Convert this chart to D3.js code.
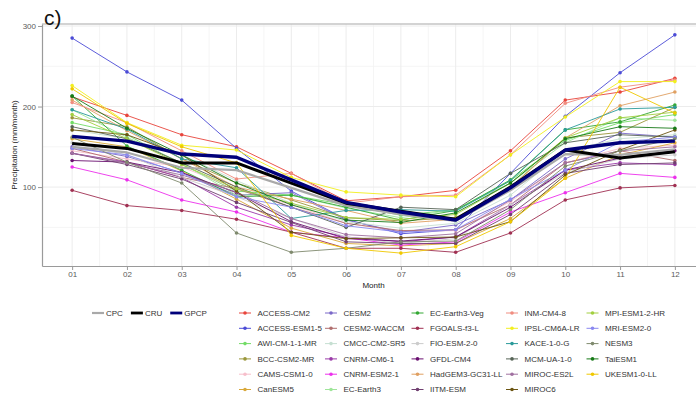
<!DOCTYPE html>
<html>
<head>
<meta charset="utf-8">
<script src="https://cdn.jsdelivr.net/npm/d3@7"></script>
<style>
  body { margin: 0; background: #fff; }
  text { font-family: "Liberation Sans", Arial, sans-serif; }
</style>
</head>
<body>
<svg id="chart" width="696" height="394"></svg>
<script>
// ---- data ---------------------------------------------------------------
const months = ["01","02","03","04","05","06","07","08","09","10","11","12"];
const yTicks = [100, 200, 300];

// observational products (mm/month)
const obsNames  = ["CPC", "CRU", "GPCP"];
const obsColors = ["#a9a9a9", "#000000", "#00007a"];
const cpc  = [150, 143, 124, 121,  99, 77, 66, 58,  96, 141, 140, 147];
const cru  = [154, 148, 130, 130, 105, 80, 70, 60, 100, 146, 136, 144];
const gpcp = [163, 157, 141, 137, 109, 81, 69, 59,  99, 146, 155, 157];

// CMIP6 models
const modelNames = [
  "ACCESS-CM2", "ACCESS-ESM1-5", "AWI-CM-1-1-MR", "BCC-CSM2-MR", "CAMS-CSM1-0", "CanESM5",
  "CESM2", "CESM2-WACCM", "CMCC-CM2-SR5", "CNRM-CM6-1", "CNRM-ESM2-1", "EC-Earth3",
  "EC-Earth3-Veg", "FGOALS-f3-L", "FIO-ESM-2-0", "GFDL-CM4", "HadGEM3-GC31-LL", "IITM-ESM",
  "INM-CM4-8", "IPSL-CM6A-LR", "KACE-1-0-G", "MCM-UA-1-0", "MIROC-ES2L", "MIROC6",
  "MPI-ESM1-2-HR", "MRI-ESM2-0", "NESM3", "TaiESM1", "UKESM1-0-LL"
];
const modelColors = [
  "#e8453c", "#4b4bd6", "#72dc66", "#9a963a", "#f7bfcb", "#d9a83a",
  "#7a68c8", "#b06e6e", "#c6dfd2", "#9a3aa8", "#ec30ec", "#9fe59a",
  "#34a834", "#a03052", "#cccccc", "#6a1070", "#e0a062", "#703f70",
  "#f08d80", "#f2ef1e", "#2a9a9a", "#566456", "#a070a0", "#6b5512",
  "#a2cf40", "#8a88f0", "#7f8a6e", "#187a18", "#f0c800"
];
const modelValues = [
  [212, 189, 165, 150, 117, 83, 88, 96, 145, 208, 218, 235],
  [285, 243, 208, 148,  95, 60, 42, 47, 117, 188, 242, 289],
  [180, 165, 128,  95,  90, 78, 65, 72, 108, 158, 180, 190],
  [186, 175, 135, 105,  84, 62, 58, 62, 100, 161, 168, 199],
  [145, 135, 125,  98,  78, 55, 45, 46,  82, 130, 148, 152],
  [160, 150, 120,  85,  49, 30, 27, 30,  61, 111, 140, 155],
  [150, 138, 118,  90,  93, 59, 44, 53,  84, 135, 167, 162],
  [148, 131, 112,  98,  75, 55, 46, 47,  78, 130, 145, 133],
  [171, 160, 140, 108,  80, 57, 49, 55,  90, 145, 160, 165],
  [142, 131, 112,  75,  53, 38, 32, 38,  78, 121, 130, 128],
  [125, 109,  84,  69,  44, 37, 28, 32,  69,  93, 117, 112],
  [196, 162, 130,  90,  90, 74, 62, 72, 105, 155, 186, 183],
  [213, 151, 121,  88,  90, 75, 59, 71, 109, 171, 181, 202],
  [ 96,  77,  71,  60,  44, 24, 24, 19,  43,  84,  99, 102],
  [155, 140, 112,  88,  61, 38, 30, 36,  78, 118, 135, 140],
  [133, 131, 118,  93,  57, 36, 33, 38,  75, 121, 136, 145],
  [208, 170, 135, 100,  85, 71, 55, 60,  99, 161, 201, 218],
  [142, 128, 110,  81,  56, 32, 30, 30,  66, 117, 128, 130],
  [205, 180, 145, 110, 117, 80, 88, 90, 140, 204, 224, 233],
  [226, 180, 152, 146, 112, 94, 90, 88, 140, 187, 231, 231],
  [196, 172, 135, 124,  61, 71, 72, 70, 108, 171, 197, 199],
  [175, 160, 130, 100,  75, 50, 75, 72, 117, 155, 165, 162],
  [142, 130, 115,  94,  61, 41, 37, 42,  84, 130, 145, 150],
  [171, 165, 140,  95,  44, 36, 37, 38,  57, 115, 146, 171],
  [190, 160, 128,  98,  80, 62, 60, 66, 105, 161, 186, 193],
  [148, 140, 117,  88,  75, 52, 44, 47,  85, 121, 156, 162],
  [162, 131, 105,  43,  19, 24, 32, 33,  72, 126, 145, 160],
  [213, 173, 140, 105,  78, 59, 56, 68, 105, 160, 175, 173],
  [222, 179, 150, 130,  40, 24, 18, 26,  57, 111, 224, 192]
];

// ---- layout -------------------------------------------------------------
const svg = d3.select("#chart");
const panel = { left: 42, right: 705, top: 24, bottom: 266 };

const x = d3.scaleLinear().domain([0.45, 12.55]).range([panel.left, panel.right]);
const y = d3.scaleLinear().domain([2, 302.5]).range([panel.bottom, panel.top]);

// grid: minor lines every half month / 50 mm, major on months / 100 mm
const grid = svg.append("g");
const minorX = d3.range(1.5, 12.6, 1);
const minorY = [50, 150, 250];
grid.selectAll(".gxm").data(minorX).join("line")
  .attr("x1", d => x(d)).attr("x2", d => x(d))
  .attr("y1", panel.top).attr("y2", panel.bottom)
  .attr("stroke", "#f3f3f3").attr("stroke-width", 0.8);
grid.selectAll(".gym").data(minorY).join("line")
  .attr("x1", panel.left).attr("x2", panel.right)
  .attr("y1", d => y(d)).attr("y2", d => y(d))
  .attr("stroke", "#f3f3f3").attr("stroke-width", 0.8);
grid.selectAll(".gx").data(d3.range(1, 13)).join("line")
  .attr("x1", d => x(d)).attr("x2", d => x(d))
  .attr("y1", panel.top).attr("y2", panel.bottom)
  .attr("stroke", "#ececec").attr("stroke-width", 1);
grid.selectAll(".gy").data(yTicks).join("line")
  .attr("x1", panel.left).attr("x2", panel.right)
  .attr("y1", d => y(d)).attr("y2", d => y(d))
  .attr("stroke", "#ececec").attr("stroke-width", 1);

// top border of the panel
svg.append("line")
  .attr("x1", panel.left).attr("x2", panel.right)
  .attr("y1", panel.top).attr("y2", panel.top)
  .attr("stroke", "#c4c4c4").attr("stroke-width", 1.6);

// ---- series -------------------------------------------------------------
const line = d3.line().x((d, i) => x(i + 1)).y(d => y(d));

const models = svg.append("g");
modelValues.forEach((vals, k) => {
  const g = models.append("g");
  g.append("path").datum(vals)
    .attr("d", line).attr("fill", "none")
    .attr("stroke", modelColors[k]).attr("stroke-width", 1)
    .attr("stroke-opacity", 0.9);
  g.selectAll("circle").data(vals).join("circle")
    .attr("cx", (d, i) => x(i + 1)).attr("cy", d => y(d))
    .attr("r", 1.8).attr("fill", modelColors[k]);
});

const obsSeries = [cpc, cru, gpcp];
const obsWidths = [2.2, 3, 3.4];
obsSeries.forEach((vals, k) => {
  svg.append("path").datum(vals)
    .attr("d", line).attr("fill", "none")
    .attr("stroke", obsColors[k]).attr("stroke-width", obsWidths[k])
    .attr("stroke-linejoin", "round");
});

// ---- axes ---------------------------------------------------------------
const axisColor = "#9a9a9a";
const tickText = "#5a5a5a";

const yAxis = svg.append("g").attr("transform", `translate(${panel.left},0)`)
  .call(d3.axisLeft(y).tickValues(yTicks).tickSize(4).tickSizeOuter(0).tickPadding(2));
yAxis.select(".domain").attr("stroke", axisColor).attr("stroke-width", 1.2);
yAxis.selectAll(".tick line").attr("stroke", axisColor);
yAxis.selectAll(".tick text").attr("fill", tickText).attr("font-size", 8)
  .style("font-family", "'Liberation Sans', Arial, sans-serif");

const xAxis = svg.append("g").attr("transform", `translate(0,${panel.bottom})`)
  .call(d3.axisBottom(x).tickValues(d3.range(1, 13)).tickFormat(i => months[i - 1])
    .tickSize(4).tickSizeOuter(0).tickPadding(1));
xAxis.select(".domain").attr("stroke", axisColor).attr("stroke-width", 1.2);
xAxis.selectAll(".tick line").attr("stroke", axisColor);
xAxis.selectAll(".tick text").attr("fill", tickText).attr("font-size", 8)
  .style("font-family", "'Liberation Sans', Arial, sans-serif");

// axis titles
svg.append("text")
  .attr("x", (panel.left + panel.right) / 2).attr("y", 288)
  .attr("text-anchor", "middle").attr("font-size", 8).attr("fill", "#222")
  .text("Month");
svg.append("text")
  .attr("transform", `translate(17,${(panel.top + panel.bottom) / 2}) rotate(-90)`)
  .attr("text-anchor", "middle").attr("font-size", 8).attr("fill", "#222")
  .text("Precipitation (mm/month)");

// panel tag
svg.append("text")
  .attr("x", 44).attr("y", 25)
  .attr("font-size", 21).attr("fill", "#111")
  .text("c)");

// ---- legends ------------------------------------------------------------
const legY0 = 313, legDy = 15.3;

// observations
const obsLeg = svg.append("g");
let ox = 92;
obsNames.forEach((name, k) => {
  obsLeg.append("line")
    .attr("x1", ox).attr("x2", ox + 12).attr("y1", legY0).attr("y2", legY0)
    .attr("stroke", obsColors[k]).attr("stroke-width", k === 0 ? 2.2 : 2.8);
  const t = obsLeg.append("text")
    .attr("x", ox + 14).attr("y", legY0).attr("dy", "0.35em")
    .attr("font-size", 8).attr("fill", "#333").text(name);
  ox += 14 + t.node().getComputedTextLength() + 8;
});

// models, five columns of six rows
const colCenters = [245, 331, 417.5, 512, 592.5];
const modLeg = svg.append("g");
modelNames.forEach((name, k) => {
  const col = Math.floor(k / 6), row = k % 6;
  const cx = colCenters[col], cy = legY0 + row * legDy;
  modLeg.append("line")
    .attr("x1", cx - 6).attr("x2", cx + 6).attr("y1", cy).attr("y2", cy)
    .attr("stroke", modelColors[k]).attr("stroke-width", 1);
  modLeg.append("circle").attr("cx", cx).attr("cy", cy).attr("r", 1.8)
    .attr("fill", modelColors[k]);
  modLeg.append("text")
    .attr("x", cx + 12.5).attr("y", cy).attr("dy", "0.35em")
    .attr("font-size", 8).attr("fill", "#333").text(name);
});
</script>
</body>
</html>
